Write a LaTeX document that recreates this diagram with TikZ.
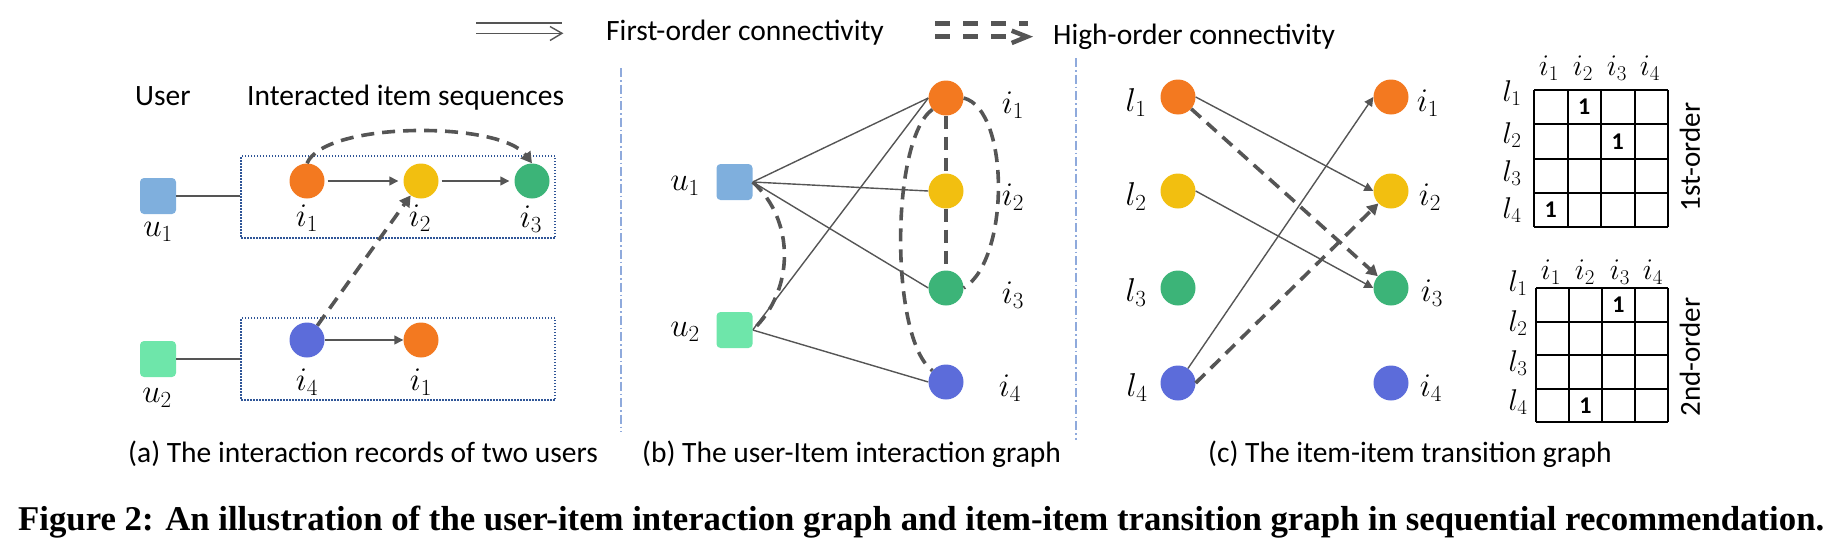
\RequirePackage{fix-cm}
\documentclass[tikz,border=0pt]{standalone}
\usepackage{graphicx}
\usepackage{fontspec}
\setmainfont{Carlito}
\newfontfamily\capfont{Liberation Serif}
\usetikzlibrary{arrows.meta}
\definecolor{cOrange}{RGB}{243,121,32}
\definecolor{cYellow}{RGB}{242,191,16}
\definecolor{cGreen}{RGB}{60,180,120}
\definecolor{cBlue}{RGB}{92,108,218}
\definecolor{cUone}{RGB}{127,175,221}
\definecolor{cUtwo}{RGB}{110,230,170}
\definecolor{cLine}{RGB}{85,85,85}
\definecolor{cBox}{RGB}{47,85,151}
\definecolor{cSep}{RGB}{143,170,220}
\pgfdeclarelayer{bg}
\pgfsetlayers{bg,main}
\begin{document}
\begin{tikzpicture}[x=1pt,y=-1pt,
  dot/.style={circle,minimum size=35pt,inner sep=0pt},
  usq/.style={rectangle,rounded corners=4pt,minimum width=36pt,minimum height=36pt,inner sep=0pt},
  mlab/.style={inner sep=0pt,font=\fontsize{33}{35}\selectfont},
  slab/.style={inner sep=0pt,font=\fontsize{30}{32}\selectfont},
  txt/.style={inner sep=0pt,anchor=base west,font=\fontsize{29.5}{33}\selectfont},
  one/.style={inner sep=0pt,font=\fontsize{24}{26}\selectfont\bfseries},
  sline/.style={draw=cLine,line width=1.4pt},
  sarr/.style={sline,-{Triangle[length=9pt,width=9pt]}},
  hline/.style={draw=cLine,line width=3.6pt,dash pattern=on 13pt off 8pt},
  harr/.style={hline,-{Triangle[length=11pt,width=12pt]}},
  seqbox/.style={draw=cBox,line width=1.5pt,dash pattern=on 1.5pt off 1.5pt,inner sep=0pt},
  sep/.style={draw=cSep,line width=1.2pt,dash pattern=on 9pt off 3pt on 1.5pt off 3pt},
  grd/.style={draw=black,line width=2pt}
]
\useasboundingbox (0,0) rectangle (1842,544);

% ---------- legend ----------
\coordinate (lfa) at (476,23); \coordinate (lfb) at (562,23);
\coordinate (lfc) at (476,33.3); \coordinate (lfd) at (561,33.3);
\draw[sline] (lfa) -- (lfb);
\draw[sline] (lfc) -- (lfd);
\draw[sline] (550,26.5) -- (562,33.3) -- (550,40.5);
\node[txt] (lgt1) at (606,40.7) {First-order connectivity};

\coordinate (lha) at (935,23.3); \coordinate (lhb) at (1028,23.3);
\coordinate (lhc) at (935,36.7); \coordinate (lhd) at (1008,36.7);
\draw[draw=cLine,line width=4.5pt,dash pattern=on 15pt off 13pt] (lha) -- (lhb);
\draw[draw=cLine,line width=4.5pt,dash pattern=on 15pt off 13pt] (lhc) -- (lhd);
\draw[draw=cLine,line width=4.5pt,miter limit=4] (1011.7,30.7) -- (1027,36.7) -- (1011.7,43);
\node[txt] (lgt2) at (1053,44) {High-order connectivity};

% ---------- separators ----------
\draw[sep] (621,68) -- (621,432);
\draw[sep] (1076,58) -- (1076,440);

% ---------- part (a) ----------
\node[txt] (auser) at (135,105) {User};
\node[txt] (aseq) at (247,105) {Interacted item sequences};
\node[usq,fill=cUone] (au1) at (158,196) {};
\node[usq,fill=cUtwo] (au2) at (158,359) {};
\node[mlab] (lau1) at (158,232) {$u_1$};
\node[mlab] (lau2) at (157,398) {$u_2$};
\node[seqbox,minimum width=314pt,minimum height=82pt] (box1) at (398,197) {};
\node[seqbox,minimum width=314pt,minimum height=82pt] (box2) at (398,359) {};
\node[dot,fill=cOrange] (ai1) at (307,181) {};
\node[dot,fill=cYellow] (ai2) at (421,181) {};
\node[dot,fill=cGreen] (ai3) at (532,181) {};
\node[dot,fill=cBlue] (ai4) at (307,340) {};
\node[dot,fill=cOrange] (ai5) at (421,340) {};
\node[mlab] (lai1) at (307,218) {$i_1$};
\node[mlab] (lai2) at (420,218) {$i_2$};
\node[mlab] (lai3) at (531,219) {$i_3$};
\node[mlab] (lai4) at (307,382) {$i_4$};
\node[mlab] (lai5) at (421,382) {$i_1$};
\draw[sline] (au1.east) -- (au1.east -| box1.west);
\draw[sline] (au2.east) -- (au2.east -| box2.west);
\draw[sarr,shorten <=3pt,shorten >=5pt] (ai1) -- (ai2);
\draw[sarr,shorten <=3pt,shorten >=5pt] (ai2) -- (ai3);
\draw[sarr] (ai4) -- (ai5);
\draw[harr] (ai1.north) .. controls (325,121) and (500,121) .. (ai3.north);
\draw[harr] (ai4) -- (ai2);
\node[txt] (capa) at (128,462) {(a) The interaction records of two users};

% ---------- part (b) ----------
\node[usq,fill=cUone] (bu1) at (734.5,182) {};
\node[usq,fill=cUtwo] (bu2) at (734.5,330) {};
\node[mlab] (lbu1) at (685,186) {$u_1$};
\node[mlab] (lbu2) at (685,332) {$u_2$};
\node[dot,fill=cOrange] (bi1) at (946,98) {};
\node[dot,fill=cYellow] (bi2) at (946,191) {};
\node[dot,fill=cGreen] (bi3) at (946,288) {};
\node[dot,fill=cBlue] (bi4) at (946,382) {};
\node[mlab] (lbi1) at (1013,105) {$i_1$};
\node[mlab] (lbi2) at (1013,197) {$i_2$};
\node[mlab] (lbi3) at (1013,295) {$i_3$};
\node[mlab] (lbi4) at (1010,388) {$i_4$};
\begin{pgfonlayer}{bg}
\draw[sline] (bu1.east) -- (bi1.west);
\draw[sline] (bu1.east) -- (bi2.west);
\draw[sline] (bu1.east) -- (bi3.west);
\draw[sline] (bu2.east) -- (bi1.west);
\draw[sline] (bu2.east) -- (bi4.west);
\end{pgfonlayer}
\draw[hline] (bu1.east) .. controls (795,220) and (795,290) .. (bu2.east);
\draw[hline] (bi1.220) .. controls (890,140) and (890,340) .. (bi4.140);
\draw[hline] (bi1.south) -- (bi2.north);
\draw[hline] (bi2.south) -- (bi3.north);
\draw[hline] (bi1.east) .. controls (1010,110) and (1010,260) .. (bi3.east);
\node[txt] (capb) at (642,462) {(b) The user-Item interaction graph};

% ---------- part (c) ----------
\node[dot,fill=cOrange] (cl1) at (1178,97) {};
\node[dot,fill=cYellow] (cl2) at (1178,191) {};
\node[dot,fill=cGreen] (cl3) at (1178,288) {};
\node[dot,fill=cBlue] (cl4) at (1178,383) {};
\node[dot,fill=cOrange] (ci1) at (1391,97) {};
\node[dot,fill=cYellow] (ci2) at (1391,191) {};
\node[dot,fill=cGreen] (ci3) at (1391,288) {};
\node[dot,fill=cBlue] (ci4) at (1391,383) {};
\node[mlab] (lcl1) at (1136,103) {$l_1$};
\node[mlab] (lcl2) at (1136,197) {$l_2$};
\node[mlab] (lcl3) at (1136,293) {$l_3$};
\node[mlab] (lcl4) at (1137,388) {$l_4$};
\node[mlab] (lci1) at (1428,103) {$i_1$};
\node[mlab] (lci2) at (1430,197) {$i_2$};
\node[mlab] (lci3) at (1432,293) {$i_3$};
\node[mlab] (lci4) at (1431,388) {$i_4$};
\draw[sarr] (cl1.east) -- (ci2.west);
\draw[sarr] (cl2.east) -- (ci3.west);
\draw[sarr] (cl4) -- (ci1.west);
\draw[harr] (cl1) -- (ci3);
\draw[harr] (cl4.east) -- (ci2);
\node[txt] (capc) at (1208,462) {(c) The item-item transition graph};

% ---------- matrices ----------
\foreach \k in {0,...,4} {
  \draw[grd] ({1534+\k*33.5},90) -- ({1534+\k*33.5},227);
  \draw[grd] (1534,{90+\k*34.25}) -- (1668,{90+\k*34.25});
  \draw[grd] ({1536+\k*33},288) -- ({1536+\k*33},422);
  \draw[grd] (1536,{288+\k*33.5}) -- (1668,{288+\k*33.5});
}
\foreach \x/\n in {1549/1,1583/2,1617/3,1650/4} {\node[slab] (mah\n) at (\x,68) {$i_\n$};}
\foreach \y/\n in {93/1,135/2,173/3,210/4} {\node[slab] (mar\n) at (1512,\y) {$l_\n$};}
\node[one] (ma12) at (1584.25,107.1) {1};
\node[one] (ma23) at (1617.75,141.4) {1};
\node[one] (ma41) at (1550.75,209.9) {1};
\node[inner sep=0pt,rotate=90,font=\fontsize{29}{32}\selectfont] (mat1) at (1690,157) {1st-order};

\foreach \x/\n in {1551/1,1585/2,1620/3,1653/4} {\node[slab] (mbh\n) at (\x,272) {$i_\n$};}
\foreach \y/\n in {283/1,323/2,363/3,402/4} {\node[slab] (mbr\n) at (1518,\y) {$l_\n$};}
\node[one] (mb13) at (1618.5,304.75) {1};
\node[one] (mb42) at (1585.5,405.25) {1};
\node[inner sep=0pt,rotate=90,font=\fontsize{29}{32}\selectfont] (mat2) at (1690,357) {2nd-order};

% ---------- figure caption ----------
\node[inner sep=0pt,anchor=base west] (figcap) at (18,530) {\resizebox{1806pt}{!}{\fontsize{30}{34}\selectfont\capfont\bfseries Figure 2: An illustration of the user-item interaction graph and item-item transition graph in sequential recommendation.}};
\end{tikzpicture}
\end{document}
